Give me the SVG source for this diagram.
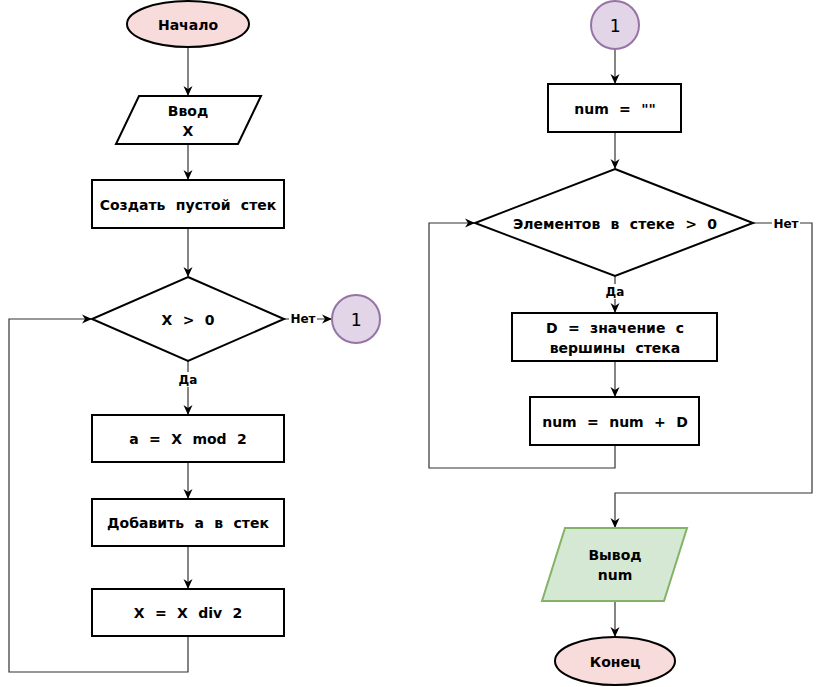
<svg xmlns="http://www.w3.org/2000/svg" width="825" height="687" viewBox="0 0 825 687">
<style>
.t{font-family:"DejaVu Sans","Noto Sans",sans-serif;font-weight:bold;font-size:14px;word-spacing:5.5px;fill:#000;text-anchor:middle;dominant-baseline:central}
.l{font-family:"DejaVu Sans","Noto Sans",sans-serif;font-weight:bold;font-size:12px;fill:#000;text-anchor:middle;dominant-baseline:central}
.c{font-family:"DejaVu Sans Mono","DejaVu Sans",monospace;font-size:18px;fill:#000;text-anchor:middle;dominant-baseline:central}
.box{fill:#fff;stroke:#000;stroke-width:2}
.term{fill:#f8dcdb;stroke:#000;stroke-width:2}
.conn{fill:#e1d5e7;stroke:#9673a6;stroke-width:2}
.out{fill:#d5e8d4;stroke:#82b366;stroke-width:2}
.e{fill:none;stroke:#333;stroke-width:1.2}
</style>
<defs>
<marker id="a" viewBox="0 0 10 10" refX="9" refY="5" markerWidth="10" markerHeight="10" markerUnits="userSpaceOnUse" orient="auto">
<path d="M0,0.5 L10,5 L0,9.5 L3,5 Z" fill="#000"/>
</marker>
</defs>
<g id="edges">
<path class="e" d="M188,48 V95" marker-end="url(#a)"/>
<path class="e" d="M188,144 V179" marker-end="url(#a)"/>
<path class="e" d="M188,228 V276" marker-end="url(#a)"/>
<path class="e" d="M188,361 V414" marker-end="url(#a)"/>
<path class="e" d="M188,462 V498" marker-end="url(#a)"/>
<path class="e" d="M188,546 V588" marker-end="url(#a)"/>
<path class="e" d="M188,636 V672 H9 V319 H91" marker-end="url(#a)"/>
<path class="e" d="M284,319 H331" marker-end="url(#a)"/>
<path class="e" d="M615,49 V83" marker-end="url(#a)"/>
<path class="e" d="M615,132 V168" marker-end="url(#a)"/>
<path class="e" d="M615,276 V312" marker-end="url(#a)"/>
<path class="e" d="M615,361 V396" marker-end="url(#a)"/>
<path class="e" d="M615,445 V468 H429 V223 H474" marker-end="url(#a)"/>
<path class="e" d="M753,223 H812 V493 H615 V527" marker-end="url(#a)"/>
<path class="e" d="M615,601 V636" marker-end="url(#a)"/>
<rect x="175" y="372" width="26" height="15" fill="#fff"/>
<text class="l" x="188" y="380">Да</text>
<rect x="289" y="311" width="28" height="16" fill="#fff"/>
<text class="l" x="303" y="319">Нет</text>
<rect x="602" y="284" width="26" height="15" fill="#fff"/>
<text class="l" x="615" y="292">Да</text>
<rect x="772" y="216" width="28" height="16" fill="#fff"/>
<text class="l" x="786" y="224">Нет</text>
</g>
<g id="start"><ellipse class="term" cx="188" cy="24" rx="61" ry="23"/><text class="t" x="188" y="25">Начало</text></g>
<g id="input"><polygon class="box" points="139,96 261,96 238,144 116,144"/><text class="t" x="188" y="111">Ввод</text><text class="t" x="188" y="131">X</text></g>
<g id="create"><rect class="box" x="92" y="180" width="192" height="48"/><text class="t" x="188" y="205">Создать пустой стек</text></g>
<g id="cond1"><polygon class="box" points="188,277 284,319 188,361 92,319"/><text class="t" x="188" y="320">X &gt; 0</text></g>
<g id="conn1a"><circle class="conn" cx="356" cy="319" r="24"/><text class="c" x="356" y="319">1</text></g>
<g id="mod"><rect class="box" x="92" y="415" width="192" height="47"/><text class="t" x="188" y="439">a = X mod 2</text></g>
<g id="push"><rect class="box" x="92" y="499" width="192" height="47"/><text class="t" x="188" y="523">Добавить a в стек</text></g>
<g id="div"><rect class="box" x="92" y="589" width="192" height="47"/><text class="t" x="188" y="613">X = X div 2</text></g>
<g id="conn1b"><circle class="conn" cx="615" cy="25" r="24"/><text class="c" x="615" y="25">1</text></g>
<g id="init"><rect class="box" x="548" y="84" width="133" height="48"/><text class="t" x="615" y="109">num = ""</text></g>
<g id="cond2"><polygon class="box" points="615,169 753,223 615,276 475,223"/><text class="t" x="615" y="224">Элементов в стеке &gt; 0</text></g>
<g id="pop"><rect class="box" x="512" y="313" width="205" height="48"/><text class="t" x="615" y="328">D = значение с</text><text class="t" x="615" y="348">вершины стека</text></g>
<g id="concat"><rect class="box" x="530" y="397" width="169" height="48"/><text class="t" x="615" y="422">num = num + D</text></g>
<g id="output"><polygon class="out" points="565,528 687,528 664,601 542,601"/><text class="t" x="615" y="555">Вывод</text><text class="t" x="615" y="575">num</text></g>
<g id="end"><ellipse class="term" cx="615" cy="661" rx="60" ry="24"/><text class="t" x="615" y="662">Конец</text></g>
</svg>
